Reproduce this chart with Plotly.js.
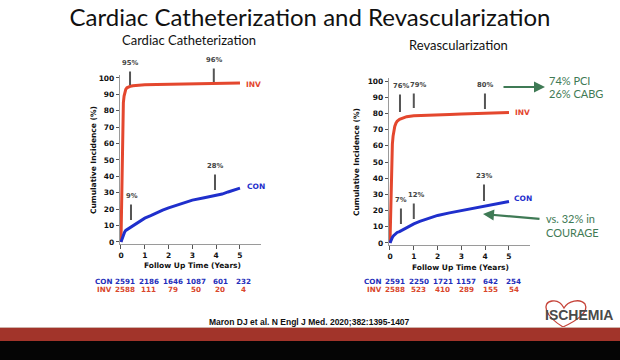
<!DOCTYPE html>
<html>
<head>
<meta charset="utf-8">
<script src="https://cdn.plot.ly/plotly-3.0.1.min.js"></script>
<style>html,body{margin:0;padding:0;background:#fff;}#chart{width:620px;height:360px;}</style>
</head>
<body>
<div id="chart"></div>
<script>
// ---------- data ----------
var tInvL = [0, 0.02, 0.04, 0.06, 0.08, 0.1, 0.13, 0.16, 0.2, 0.25, 0.3, 0.4, 0.5, 0.7, 1.0, 1.5, 2.0, 2.5, 3.0, 3.5, 4.0, 4.5, 5.0];
var yInvL = [0, 20, 45, 65, 78, 85, 89, 91.5, 93, 94, 94.5, 95, 95.3, 95.6, 95.8, 96, 96.1, 96.2, 96.3, 96.5, 96.6, 96.8, 97];
var tConL = [0, 0.05, 0.1, 0.15, 0.2, 0.25, 0.3, 0.4, 0.5, 0.75, 1.0, 1.25, 1.5, 1.75, 2.0, 2.5, 3.0, 3.5, 4.0, 4.25, 4.5, 4.75, 5.0];
var yConL = [0, 2.5, 4.5, 6, 7, 7.5, 8, 8.8, 9.6, 12.3, 14.5, 16, 17.8, 19.4, 20.8, 23.2, 25.5, 27, 28.3, 29.2, 30.5, 31.8, 32.8];

var tInvR = [0, 0.02, 0.04, 0.06, 0.08, 0.1, 0.13, 0.16, 0.2, 0.25, 0.3, 0.4, 0.5, 0.7, 1.0, 1.5, 2.0, 2.5, 3.0, 3.5, 4.0, 4.5, 5.0];
var yInvR = [0, 15, 32, 46, 55, 61, 66, 69.5, 72, 74, 75.2, 76.3, 77, 78, 78.6, 79, 79.2, 79.4, 79.6, 79.8, 80, 80.3, 80.6];
var tConR = [0, 0.05, 0.1, 0.15, 0.2, 0.25, 0.3, 0.4, 0.5, 0.75, 1.0, 1.25, 1.5, 1.75, 2.0, 2.5, 3.0, 3.5, 4.0, 4.25, 4.5, 4.75, 5.0];
var yConR = [0, 2, 3.5, 4.5, 5.3, 6, 6.5, 7, 7.8, 10, 11.8, 13.3, 14.6, 15.8, 17, 18.6, 20, 21.5, 23, 23.6, 24.3, 25, 25.6];

var riskTimes = [0, 1, 2, 3, 4, 5];
var riskConL = [2591, 2186, 1646, 1087, 601, 232];
var riskInvL = [2588, 111, 79, 50, 20, 4];
var riskConR = [2591, 2250, 1721, 1157, 642, 254];
var riskInvR = [2588, 523, 410, 289, 155, 54];

var xTicks = [0, 1, 2, 3, 4, 5];
var yTicks = [0, 10, 20, 30, 40, 50, 60, 70, 80, 90, 100];

// ---------- helpers ----------
var W = 620, H = 360;
function px(x) { return x / W; }
function py(y) { return 1 - y / H; }

var RED = '#e4472e', BLUE = '#1f2fcc', GREEN = '#3f7a55';
var FONT = 'DejaVu Sans';
var SLIDE = 'Lato, Liberation Sans';

var traces = [
  {x: tInvL, y: yInvL, xaxis: 'x', yaxis: 'y', mode: 'lines', line: {color: RED, width: 3}},
  {x: tConL, y: yConL, xaxis: 'x', yaxis: 'y', mode: 'lines', line: {color: BLUE, width: 3}},
  {x: tInvR, y: yInvR, xaxis: 'x2', yaxis: 'y2', mode: 'lines', line: {color: RED, width: 3}},
  {x: tConR, y: yConR, xaxis: 'x2', yaxis: 'y2', mode: 'lines', line: {color: BLUE, width: 3}}
];

function axX(domain, anchor) {
  return {domain: domain, anchor: anchor, range: [-0.05, 5.9], tickvals: xTicks,
    showgrid: false, zeroline: false, showline: true, linecolor: '#9a9a9a', linewidth: 1,
    ticks: 'outside', ticklen: 4, tickcolor: '#555', tickwidth: 1,
    tickfont: {family: FONT, size: 7.5, color: '#111', weight: 'bold'}};
}
function axY(domain, anchor) {
  return {domain: domain, anchor: anchor, range: [-1, 102], tickvals: yTicks,
    showgrid: false, zeroline: false, showline: true, linecolor: '#9a9a9a', linewidth: 1,
    ticks: 'outside', ticklen: 3, tickcolor: '#555', tickwidth: 1,
    tickfont: {family: FONT, size: 7.5, color: '#111', weight: 'bold'}};
}

var ann = [];
function txt(x, y, text, opt) {
  var a = Object.assign({x: x, y: y, xref: 'paper', yref: 'paper', text: text, showarrow: false,
    xanchor: 'center', yanchor: 'middle', font: {family: FONT, size: 7.5, color: '#111'}}, opt || {});
  ann.push(a);
}
function bar(xr, yr, x, y, top, label, dx) {
  ann.push({x: x, y: y, xref: xr, yref: yr, ax: 0, ay: -top, showarrow: true, arrowhead: 0,
    arrowwidth: 2, arrowcolor: '#555', text: '', standoff: 0});
  ann.push({x: x, y: y, xref: xr, yref: yr, ax: dx || 0, ay: -(top + 7), showarrow: true, arrowwidth: 0.1,
    arrowcolor: 'rgba(0,0,0,0)', text: label, font: {family: FONT, size: 6.8, color: '#444', weight: 'bold'}});
}

// Subplot titles
txt(px(189), py(40), 'Cardiac Catheterization', {font: {family: SLIDE, size: 13, color: '#111'}});
txt(px(458), py(45), 'Revascularization', {font: {family: SLIDE, size: 13, color: '#111'}});

// axis titles
var boldF = {family: FONT, size: 7.5, color: '#111', weight: 'bold'};
txt(px(93), py(160), 'Cumulative Incidence (%)', {textangle: -90, font: boldF});
txt(px(357), py(162), 'Cumulative Incidence (%)', {textangle: -90, font: boldF});
txt(px(192), py(265), 'Follow Up Time (Years)', {font: boldF});
txt(px(460), py(267), 'Follow Up Time (Years)', {font: boldF});

// series end labels
var endFont = function (c) { return {family: FONT, size: 7.5, color: c, weight: 'bold'}; };
txt(px(244), py(84), 'INV', {xanchor: 'left', font: endFont(RED)});
txt(px(245), py(186), 'CON', {xanchor: 'left', font: endFont(BLUE)});
txt(px(513), py(112), 'INV', {xanchor: 'left', font: endFont(RED)});
txt(px(512), py(198), 'CON', {xanchor: 'left', font: endFont(BLUE)});

// indicator bars
bar('x', 'y', 0.38, 95.7, 15, '95%');
bar('x', 'y', 3.9, 97.6, 15, '96%');
bar('x', 'y', 3.95, 31.7, 17, '28%');
bar('x', 'y', 0.42, 13.4, 17, '9%', 1);
bar('x2', 'y2', 0.42, 80.9, 19, '76%', 1);
bar('x2', 'y2', 1.0, 83.3, 16, '79%', 4);
bar('x2', 'y2', 3.99, 82.7, 17, '80%');
bar('x2', 'y2', 3.95, 25.9, 18, '23%');
bar('x2', 'y2', 1.0, 14.8, 17, '12%', 2);
bar('x2', 'y2', 0.46, 11.7, 17, '7%');

// numbers at risk
var CONC = '#1f2fbb', INVC = '#d9472c';
var riskFont = function (c) { return {family: FONT, size: 7.2, color: c, weight: 'bold'}; };
txt(px(103), py(281), 'CON', {font: riskFont(CONC)});
txt(px(105), py(289), 'INV', {font: riskFont(INVC)});
txt(px(372), py(281), 'CON', {font: riskFont(CONC)});
txt(px(374), py(289), 'INV', {font: riskFont(INVC)});
function risk(xr, t, y, v, c, sh) {
  ann.push({x: t, y: y, xref: xr, yref: 'paper', xanchor: 'center', yanchor: 'middle', xshift: sh,
    text: String(v), showarrow: false, font: riskFont(c)});
}
riskTimes.forEach(function (t, i) {
  risk('x', t, py(281), riskConL[i], CONC, 4);
  risk('x', t, py(289), riskInvL[i], INVC, 4);
  risk('x2', t, py(281), riskConR[i], CONC, 5);
  risk('x2', t, py(289), riskInvR[i], INVC, 5);
});

// green callouts
var greenFont = {family: SLIDE, size: 11, color: GREEN};
ann.push({x: px(545), y: py(87), xref: 'paper', yref: 'paper', ax: px(502), ay: py(87), axref: 'paper', ayref: 'paper',
  showarrow: true, arrowhead: 2, arrowsize: 1, arrowwidth: 2.2, arrowcolor: GREEN, text: '', standoff: 0});
txt(px(547), py(81), '74% PCI', {xanchor: 'left', font: greenFont});
txt(px(547), py(94), '26% CABG', {xanchor: 'left', font: greenFont});
ann.push({x: px(483), y: py(214), xref: 'paper', yref: 'paper', ax: px(541), ay: py(219), axref: 'paper', ayref: 'paper',
  showarrow: true, arrowhead: 2, arrowsize: 1, arrowwidth: 2.2, arrowcolor: GREEN, text: '', standoff: 0});
txt(px(544), py(219), 'vs. 32% in', {xanchor: 'left', font: greenFont});
txt(px(544), py(232), 'COURAGE', {xanchor: 'left', font: greenFont});

// citation and logo
txt(px(309), py(322), 'Maron DJ et al. N Engl J Med. 2020;382:1395-1407', {font: {family: 'Liberation Sans', size: 8.5, color: '#111', weight: 'bold'}});
txt(px(579), py(315), 'ISCHEMIA', {font: {family: 'Liberation Sans', size: 14, color: '#4a4a4a', weight: 'bold'}});

function pathPx(pts) {
  return pts.replace(/(-?\d+\.?\d*) (-?\d+\.?\d*)/g, function (m, a, b) { return px(+a).toFixed(5) + ' ' + py(+b).toFixed(5); });
}
var shapes = [
  {type: 'path', xref: 'paper', yref: 'paper', path: pathPx('M 563 327 C 545 316 541 303 552 301 C 558 300 562 304 564 308 C 568 301 580 298 585 304 C 589 312 578 320 563 327 Z'),
    line: {color: '#c6443a', width: 1.3}, fillcolor: 'rgba(0,0,0,0)', layer: 'below'},
  {type: 'rect', xref: 'paper', yref: 'paper', x0: 0, x1: 1, y0: py(328), y1: py(327), fillcolor: '#cfb2aa', line: {width: 0}},
  {type: 'rect', xref: 'paper', yref: 'paper', x0: 0, x1: 1, y0: py(341), y1: py(328), fillcolor: '#a2342a', line: {width: 0}},
  {type: 'rect', xref: 'paper', yref: 'paper', x0: 0, x1: 1, y0: 0, y1: py(341), fillcolor: '#050505', line: {width: 0}}
];

var layout = {
  width: W, height: H, margin: {l: 0, r: 0, t: 0, b: 0},
  paper_bgcolor: '#fff', plot_bgcolor: 'rgba(0,0,0,0)', showlegend: false,
  title: {text: 'Cardiac Catheterization and Revascularization', x: 0.5, xanchor: 'center', y: py(18), yanchor: 'middle',
    font: {family: SLIDE, size: 24, color: '#111'}},
  xaxis: axX([px(119.8), px(261.4)], 'y'),
  yaxis: axY([py(243.6), py(74.7)], 'x'),
  xaxis2: axX([px(388.8), px(530.4)], 'y2'),
  yaxis2: axY([py(244.6), py(77.8)], 'x2'),
  annotations: ann,
  shapes: shapes
};

Plotly.newPlot('chart', traces, layout, {staticPlot: true, displayModeBar: false});
</script>
</body>
</html>
